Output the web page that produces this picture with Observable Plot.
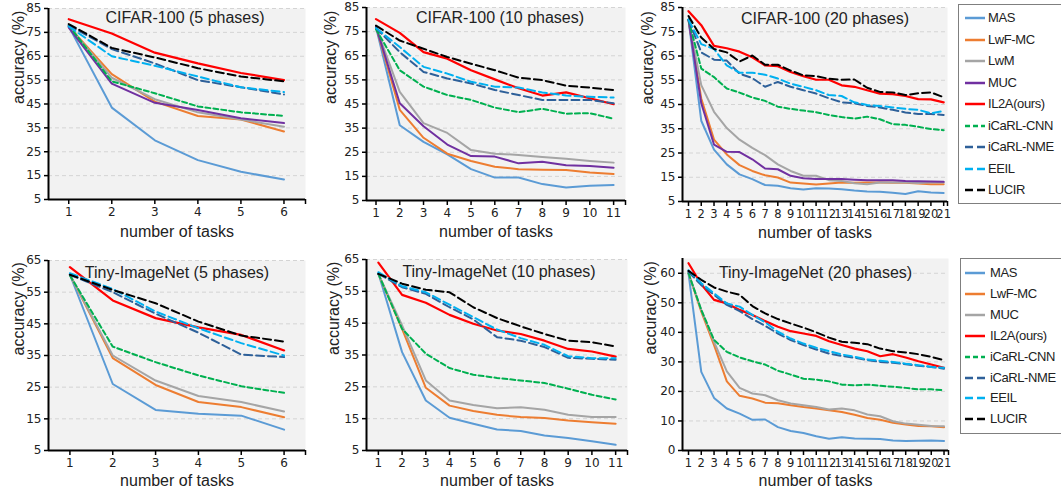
<!DOCTYPE html>
<html><head><meta charset="utf-8">
<script src="https://cdn.jsdelivr.net/npm/d3@7"></script>
<script src="https://cdn.jsdelivr.net/npm/@observablehq/plot@0.6"></script>
<style>
body{margin:0;background:#fff;}
#root{position:relative;width:1061px;height:489px;overflow:hidden;}
.legend{position:absolute;border:1px solid #7f7f7f;background:#fff;font-family:"Liberation Sans",Arial,sans-serif;font-size:13px;letter-spacing:-0.4px;color:#222;}
.legend .item{position:absolute;left:0;height:20px;white-space:nowrap;}
.legend svg{position:absolute;top:0;}
.legend span{position:absolute;top:2px;}
</style></head><body><div id="root"></div>
<script>
// ---- categories ----
const methodsTop = ["MAS","LwF-MC","LwM","MUC","IL2A(ours)","iCaRL-CNN","iCaRL-NME","EEIL","LUCIR"];
const methodsBottom = ["MAS","LwF-MC","MUC","IL2A(ours)","iCaRL-CNN","iCaRL-NME","EEIL","LUCIR"];
const titles = ["CIFAR-100 (5 phases)","CIFAR-100 (10 phases)","CIFAR-100 (20 phases)","Tiny-ImageNet (5 phases)","Tiny-ImageNet (10 phases)","Tiny-ImageNet (20 phases)"];
const yTicksCifar = [5,15,25,35,45,55,65,75,85];
const yTicksTiny = [5,15,25,35,45,55,65];
const yTicksTiny20 = [0,10,20,30,40,50,60];

// ---- series values (order follows methodsTop / methodsBottom) ----
const cifar5 = [
  [77.5,43.5,29.8,21.5,16.6,13.4],
  [77.5,57.5,46,40,38.5,33.5],
  [77.5,56,47,41.5,38.5,35.5],
  [77,53.5,45.5,42.5,39,37],
  [80.5,74.5,66.5,62,58,55],
  [78,54.5,49.5,44,41.5,40],
  [78,68,62,55,52,49],
  [77.5,65,61,56.5,52,50],
  [78.5,68.5,64.5,60,56.5,54.5]
];
const cifar10 = [
  [76.8,36.2,29.3,24.1,18,14.5,14.5,11.8,10.4,11.1,11.4],
  [77,42.6,31,24.4,21.4,19,18,17.7,17.6,16.6,16],
  [77,50,37.1,33,25.9,24.4,23.9,23,22.3,21.4,20.7],
  [77,45.3,35.8,28.2,23.4,23.2,20.4,21.1,19.6,19.3,18.6],
  [80.2,74.5,66.5,63.8,59,55.2,51.5,48.5,49.8,47.4,44.9],
  [76,59,52.2,48.7,46.7,43.5,41.6,43,41,41.2,38.9],
  [76.5,66.5,58.3,55.6,53.5,50.8,48.7,46.7,46.7,46.7,45.3],
  [76.5,68.6,60.4,57.6,54.2,52.2,51.8,49.8,48.5,48,47.7],
  [77.5,71.3,67.9,64.5,61.7,59,55.9,54.9,52.6,51.8,50.8]
];
const cifar20 = [
  [80,38.3,26.4,20.3,16.2,14.2,11.8,11.5,10.5,9.9,10.5,10.4,10.1,9.5,9.1,9,8.6,8.1,9.2,8.7,8.5],
  [80,47.5,30.5,24.4,20,17.6,15.8,14.9,12.8,12.4,12,12.4,12.8,12.7,12.8,12.8,12.7,12.7,12.4,12.1,12.1],
  [80,53,42,35.3,30.5,27.1,24.1,20.3,17.6,15.6,15.6,13.8,13.5,12.5,12.1,12.8,12.8,12.8,12.6,12.8,12.8],
  [80,45.5,28.5,25.5,25.4,22.4,18.6,18.3,15.6,14.6,14.3,14.3,14.3,14,13.8,13.8,13.8,13.5,13.4,13.2,13.1],
  [83.5,77.7,69.2,68.2,66.8,64.5,61.1,60.8,58.4,56.7,55.2,55.2,52.9,52.3,50.9,49.5,49.3,48.5,47.2,47.1,45.9],
  [80,59.8,56.3,51.6,49.9,47.9,46.5,44.1,43.2,42.5,41.8,40.7,39.8,39.2,40,38.9,36.9,36.6,35.8,34.9,34.4],
  [80,66.5,63.5,63.1,57.7,55.9,52.3,54.3,52.3,50.9,49.5,47.6,45.9,45.5,44.4,43.8,42.8,41.7,41.1,41.1,40.7],
  [80,69.9,67.9,61.1,58.1,58.1,57.3,55.7,53.6,52.3,50.9,48.9,48.5,45.9,44.8,44.4,43.8,43.2,42.8,41.4,42.3],
  [81.5,72.6,67.9,66.5,62.7,65.2,61.4,61.4,59,57,56.7,55.6,55.2,55.3,51.9,50.2,50,48.9,49.6,50,48]
];
const tiny5 = [
  [60.5,26,17.8,16.6,16,11.6],
  [60.5,34.2,25.7,20.3,18.7,15.5],
  [60.5,35,27.1,22.2,20.3,17.3],
  [62.9,52.4,46.8,43.9,41.5,36.6],
  [60.3,37.8,32.9,28.7,25.3,23.2],
  [60.5,55,48.2,42.2,35.3,34.5],
  [61,56,48.9,43.6,38.9,35],
  [60.5,55.7,51.5,45.7,41.3,39.4]
];
const tiny10 = [
  [60.7,35.9,20.7,15.3,13.4,11.6,11.1,9.7,8.9,7.9,6.8],
  [60.5,43.2,24.7,19.1,17.4,16.2,15.5,15.2,14.4,13.9,13.4],
  [60.5,44.3,27,20.7,19.3,18.3,18.6,17.8,16.2,15.5,15.5],
  [64,53.9,51.4,47.6,44.8,42.7,41.6,39.5,36.9,36.1,34.5],
  [60.5,43.2,35.4,30.9,28.8,27.8,27,26.2,24.4,22.5,21],
  [60.5,56.3,54.2,50,46.2,40.6,39.5,37.5,34.1,33.8,33.5],
  [61,56.6,54.7,50.8,46.9,43,40.3,38.2,34.6,34,34],
  [60.5,57.4,55.5,54.7,50,46.6,44,41.6,39.5,39,37.7]
];
const tiny20 = [
  [60,26.6,17.8,14.2,12.5,10.4,10.5,7.9,6.6,5.9,4.8,4,4.5,4.1,4,3.9,3.4,3.2,3.3,3.4,3.2],
  [60,47,35.7,23.4,18.5,17.6,16.2,16,15.3,14.7,14.2,13.6,13,12.1,11,10.4,9.4,8.8,8.3,8.2,7.9],
  [60,47.6,36.8,26.8,21.2,19.3,18.7,17,15.9,15.3,14.7,13.9,14.2,13.6,12.2,11.6,9.9,9.1,8.7,8.3,8.2],
  [63.4,56.3,51,49.8,47.6,45.9,43.8,41.9,40.4,39.6,38.8,37,35.7,34.5,33.6,31.9,32.6,31.5,30.2,29.1,28],
  [60,47.6,37.4,33.4,31.5,30.2,29.1,27,25.7,24.3,24,23.4,22.3,22.1,22.3,21.9,21.6,21.2,20.7,20.7,20.4],
  [60.5,56,52.7,49.3,47.2,44.5,42.2,39.6,37.4,35.7,34.2,32.8,32,31.4,30.6,30,29.7,29.2,28.7,28.3,27.7],
  [61,56.6,53.2,49.8,48.7,45.9,43.4,40.2,37.9,36.2,34.8,33.6,32.5,31.7,30.8,30.4,30,29.4,28.9,28.3,28],
  [60.8,57.8,55.2,53.8,52.7,48.9,46.4,44.5,43,41.6,40,38.2,36.8,36.5,36,34.5,33.6,33.2,32.6,31.7,30.6]
];

// ---- styles ----
const styleTop = {
  "MAS":{c:"#5b9bd5",d:null},"LwF-MC":{c:"#ed7d31",d:null},"LwM":{c:"#a5a5a5",d:null},
  "MUC":{c:"#7030a0",d:null},"IL2A(ours)":{c:"#ff0000",d:null},"iCaRL-CNN":{c:"#00b050",d:"5,3"},
  "iCaRL-NME":{c:"#2e6099",d:"8,4"},"EEIL":{c:"#00b0f0",d:"8,4"},"LUCIR":{c:"#000000",d:"8,4"}
};
const styleBottom = Object.assign({}, styleTop, {"MUC":{c:"#a5a5a5",d:null}});

const root = document.getElementById("root");

function panel(o) {
  const rows = [];
  o.methods.forEach((m, i) => o.data[i].forEach((v, j) => rows.push({method: m, task: j + 1, acc: v})));
  const n = o.data[0].length;
  const xmax = o.xDomain[1];
  const xTicks = d3.range(1, n + 1).concat([xmax]);
  const marks = [
    Plot.frame({fill: "#f2f2f2", stroke: null}),
    Plot.gridY(o.yTicks, {stroke: "#d4d4d4", strokeOpacity: 1, strokeDasharray: "4,3"}),
    Plot.axisY(o.yTicks, {tickSize: 4, tickPadding: 3, label: null, stroke: "#000", strokeWidth: 1.5, fill: "#222", fontSize: 12}),
    Plot.axisX(xTicks, {tickSize: 5, tickPadding: 3, label: null, stroke: "#000", strokeWidth: 1.5, fill: "#222",
      fontSize: o.xFont || 12, tickFormat: d => d === xmax ? "" : String(d)})
  ];
  o.methods.forEach(m => {
    const s = o.styles[m];
    marks.push(Plot.line(rows.filter(r => r.method === m), {x: "task", y: "acc", stroke: s.c,
      strokeWidth: m === "IL2A(ours)" ? 2.2 : 2, strokeDasharray: s.d || undefined, strokeLinejoin: "round"}));
  });
  marks.push(
    Plot.ruleX([o.xDomain[0]], {stroke: "#000", strokeWidth: 2}),
    Plot.ruleY([o.yDomain[0]], {stroke: "#000", strokeWidth: 2}),
    Plot.text([o.title], {frameAnchor: "top", dx: o.titleDx, dy: o.titleDy, text: d => d, fontFamily: "Liberation Sans, Arial, sans-serif", fontSize: 16, fill: "#222", lineAnchor: "middle"}),
    Plot.text(["number of tasks"], {frameAnchor: "bottom", dy: o.xLabelDy, text: d => d, fontFamily: "Liberation Sans, Arial, sans-serif", fontSize: 16, fill: "#222", lineAnchor: "middle"}),
    Plot.text(["accuracy (%)"], {frameAnchor: "left", dx: o.yLabelDx, rotate: -90, text: d => d, fontFamily: "Liberation Sans, Arial, sans-serif", fontSize: 16, fill: "#222", lineAnchor: "middle"})
  );
  const svg = Plot.plot({
    width: o.width, height: o.height,
    marginLeft: o.mL, marginRight: o.mR, marginTop: o.mT, marginBottom: o.mB,
    x: {domain: o.xDomain},
    y: {domain: o.yDomain},
    style: {fontFamily: "DejaVu Sans, Verdana, sans-serif", fontSize: "12px", background: "transparent", overflow: "visible"},
    marks
  });
  svg.style.position = "absolute";
  svg.style.left = o.left + "px";
  svg.style.top = o.top + "px";
  root.appendChild(svg);
}

panel({data: cifar5, methods: methodsTop, styles: styleTop, title: titles[0], left: 0, top: 0, width: 320, height: 245,
  mL: 48, mR: 15, mT: 8, mB: 46, xDomain: [0.53, 6.5], yDomain: [5, 85], yTicks: yTicksCifar,
  titleDx: 8, titleDy: 9, xLabelDy: 32, yLabelDx: -30});
panel({data: cifar10, methods: methodsTop, styles: styleTop, title: titles[1], left: 320, top: 0, width: 320, height: 245,
  mL: 46, mR: 15, mT: 7, mB: 45, xDomain: [0.6, 11.5], yDomain: [5, 85], yTicks: yTicksCifar,
  titleDx: 4, titleDy: 10, xLabelDy: 31, yLabelDx: -36});
panel({data: cifar20, methods: methodsTop, styles: styleTop, title: titles[2], left: 640, top: 0, width: 315, height: 245,
  mL: 42, mR: 8, mT: 7, mB: 44, xDomain: [0.53, 21.3], yDomain: [5, 85], yTicks: yTicksCifar, xFont: 11.5,
  titleDx: 10, titleDy: 11, xLabelDy: 31, yLabelDx: -35});
panel({data: tiny5, methods: methodsBottom, styles: styleBottom, title: titles[3], left: 0, top: 245, width: 320, height: 244,
  mL: 48, mR: 15, mT: 15, mB: 39, xDomain: [0.5, 6.5], yDomain: [5, 65], yTicks: yTicksTiny,
  titleDx: 0, titleDy: 12, xLabelDy: 30, yLabelDx: -30});
panel({data: tiny10, methods: methodsBottom, styles: styleBottom, title: titles[4], left: 320, top: 245, width: 320, height: 244,
  mL: 46, mR: 13, mT: 14, mB: 39, xDomain: [0.5, 11.5], yDomain: [5, 65], yTicks: yTicksTiny,
  titleDx: 2, titleDy: 12, xLabelDy: 30, yLabelDx: -33});
panel({data: tiny20, methods: methodsBottom, styles: styleBottom, title: titles[5], left: 640, top: 245, width: 315, height: 244,
  mL: 42, mR: 7, mT: 13, mB: 39, xDomain: [0.53, 21.35], yDomain: [0, 65], yTicks: yTicksTiny20, xFont: 11.5,
  titleDx: 0, titleDy: 14, xLabelDy: 30, yLabelDx: -32});

function legend(methods, styles, left, top, height, y0, step, lineX, textX) {
  const box = document.createElement("div");
  box.className = "legend";
  Object.assign(box.style, {left: left + "px", top: top + "px", width: "120px", height: height + "px"});
  methods.forEach((m, i) => {
    const s = styles[m];
    const it = document.createElement("div");
    it.className = "item";
    it.style.top = (y0 + i * step - 10) + "px";
    it.style.width = "120px";
    it.innerHTML = `<svg width="30" height="20" style="left:${lineX}px"><line x1="0" x2="20" y1="10" y2="10" stroke="${s.c}" stroke-width="2.5" ${s.d ? `stroke-dasharray="${s.d}"` : ""}/></svg><span style="left:${textX}px">${m}</span>`;
    box.appendChild(it);
  });
  root.appendChild(box);
}
legend(methodsTop, styleTop, 958, 4, 198, 13, 21.5, 6, 29);
legend(methodsBottom, styleBottom, 960, 258, 174, 14, 20.9, 4, 29);
</script></body></html>
